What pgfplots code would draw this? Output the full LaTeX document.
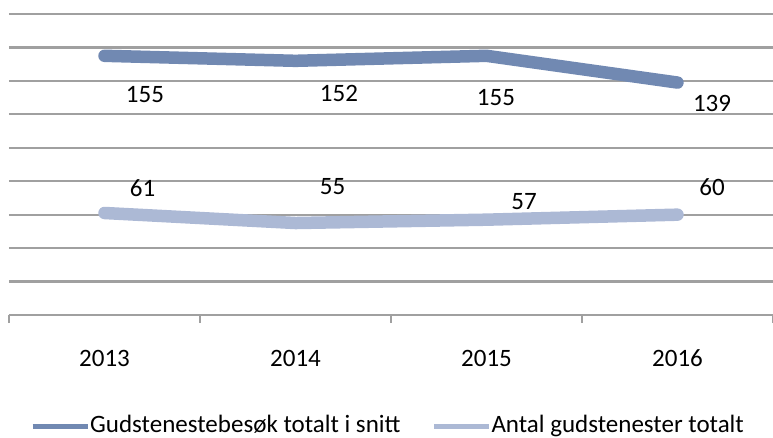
\documentclass[border=0pt]{standalone}
\usepackage{fontspec}
\setmainfont{Carlito}
\usepackage{pgfplots}
\pgfplotsset{compat=1.18}
\definecolor{sone}{RGB}{113,137,178}
\definecolor{stwo}{RGB}{172,185,213}
\definecolor{gridc}{RGB}{160,160,160}
\begin{document}
\fontsize{25bp}{30bp}\selectfont
\begin{tikzpicture}[lbl/.style={anchor=center, inner sep=0pt, font=\fontsize{25bp}{30bp}\selectfont}]
\useasboundingbox (-9bp,-123bp) rectangle (764bp,315bp);
\begin{axis}[
  at={(0,0)}, anchor=south west,
  scale only axis, width=764bp, height=301bp,
  xmin=-0.5, xmax=3.5, ymin=0, ymax=180,
  axis x line*=bottom, axis y line*=left,
  y axis line style={draw=none},
  x axis line style={gridc, line width=2.2bp, -},
  xtick={0,1,2,3}, xticklabels={2013,2014,2015,2016},
  minor xtick={-0.5,0.5,1.5,2.5,3.5},
  major tick length=0pt, minor tick length=8bp, xtick align=outside,
  xtick style={gridc, line width=2.2bp},
  ytick={0,20,...,180}, yticklabels={}, ytick style={draw=none},
  ymajorgrids, grid style={gridc, line width=2.2bp},
  xticklabel style={anchor=center, inner sep=0pt, yshift=-43bp, font=\fontsize{25bp}{30bp}\selectfont},
  legend columns=2,
  legend style={draw=none, fill=none, at={(axis description cs:0.0275,-0.405)}, anchor=south west,
    inner sep=0pt, column sep=0bp, nodes={inner sep=0pt}, font=\fontsize{25bp}{30bp}\selectfont,
    /tikz/every even column/.append style={column sep=31bp}},
  legend image code/.code={\draw[#1, line width=5bp, line cap=butt] (0bp,0bp) -- (55bp,0bp);},
  clip=false,
]
\addplot[sone, line width=12.5bp, line cap=round, line join=round] coordinates {(0,155) (1,152) (2,155) (3,139)};
\addlegendentry{Gudstenestebesøk totalt i snitt}
\addplot[stwo, line width=12.5bp, line cap=round, line join=round] coordinates {(0,61) (1,55) (2,57) (3,60)};
\addlegendentry{Antal gudstenester totalt}
\node[lbl, xshift=40.5bp, yshift=-39bp] at (axis cs:0,155) {155};
\node[lbl, xshift=43.5bp, yshift=-33bp] at (axis cs:1,152) {152};
\node[lbl, xshift=9.5bp, yshift=-42bp] at (axis cs:2,155) {155};
\node[lbl, xshift=34.5bp, yshift=-21bp] at (axis cs:3,139) {139};
\node[lbl, xshift=38bp, yshift=25bp] at (axis cs:0,61) {61};
\node[lbl, xshift=37bp, yshift=36bp] at (axis cs:1,55) {55};
\node[lbl, xshift=37.5bp, yshift=18bp] at (axis cs:2,57) {57};
\node[lbl, xshift=34.5bp, yshift=28bp] at (axis cs:3,60) {60};
\end{axis}
\end{tikzpicture}
\end{document}
